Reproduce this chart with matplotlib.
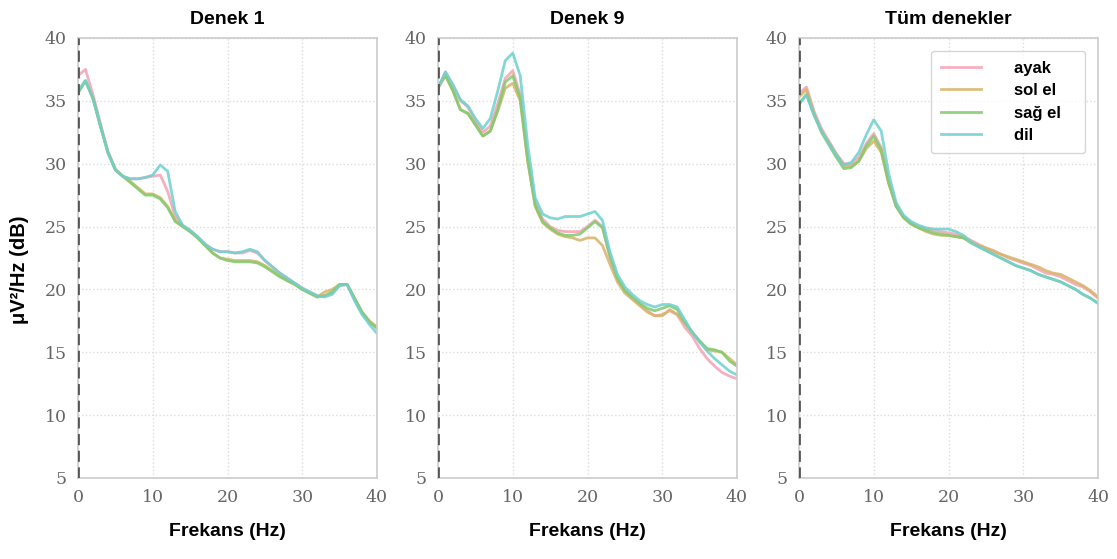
import matplotlib
matplotlib.use("Agg")
import matplotlib.pyplot as plt

freqs = list(range(0, 41))

labels = ["ayak", "sol el", "sağ el", "dil"]
colors = ["#f4a3b4", "#d6b468", "#7fcb6c", "#6fd0d0"]

titles = ["Denek 1", "Denek 9", "Tüm denekler"]

p1_ayak = [37.0,37.5,35.5,33.2,31.0,29.6,29.0,28.8,28.8,28.9,29.0,29.1,27.8,25.8,25.1,24.7,24.2,23.6,23.2,23.0,23.0,22.9,22.9,23.1,22.9,22.3,21.8,21.3,20.9,20.5,20.1,19.8,19.5,19.5,19.7,20.3,20.4,19.2,18.1,17.4,17.0]
p1_sol  = [35.7,36.6,35.2,33.0,30.9,29.5,29.0,28.6,28.1,27.6,27.6,27.3,26.6,25.5,25.0,24.6,24.1,23.5,22.9,22.5,22.4,22.3,22.3,22.3,22.2,21.9,21.5,21.1,20.7,20.4,20.0,19.7,19.4,19.8,20.0,20.4,20.4,19.3,18.2,17.5,17.0]
p1_sag  = [35.6,36.6,35.2,33.0,30.9,29.5,29.0,28.5,28.0,27.5,27.5,27.2,26.5,25.4,25.0,24.6,24.1,23.5,22.9,22.5,22.3,22.2,22.2,22.2,22.1,21.8,21.4,21.0,20.7,20.4,20.0,19.7,19.4,19.5,19.8,20.4,20.4,19.3,18.2,17.4,16.9]
p1_dil  = [35.8,36.6,35.2,33.0,30.9,29.5,29.0,28.8,28.8,28.9,29.1,29.9,29.4,26.2,25.1,24.7,24.2,23.6,23.2,23.0,23.0,22.9,23.0,23.2,23.0,22.3,21.8,21.3,20.9,20.5,20.1,19.8,19.5,19.4,19.6,20.3,20.4,19.1,18.0,17.2,16.5]

p2_ayak = [36.0,37.3,36.2,35.0,34.5,33.4,32.5,33.0,34.8,36.8,37.4,35.5,30.5,26.9,25.6,25.0,24.7,24.6,24.6,24.6,25.0,25.5,25.0,22.5,20.8,19.9,19.3,18.8,18.3,17.9,18.0,18.3,18.0,17.0,16.3,15.3,14.5,13.9,13.4,13.1,12.9]
p2_sol  = [36.0,37.0,35.8,34.3,34.0,33.1,32.2,32.6,34.2,36.0,36.4,35.0,30.2,26.6,25.3,24.8,24.4,24.2,24.1,23.9,24.1,24.1,23.5,22.0,20.6,19.7,19.2,18.7,18.2,17.9,17.9,18.4,18.0,17.3,16.6,15.9,15.2,15.1,15.0,14.5,14.0]
p2_sag  = [36.2,37.0,35.8,34.3,34.0,33.1,32.2,32.6,34.3,36.5,37.0,35.2,30.3,26.7,25.4,24.9,24.5,24.3,24.3,24.4,24.9,25.4,24.9,22.7,20.9,19.9,19.4,18.9,18.5,18.3,18.5,18.7,18.4,17.4,16.6,15.9,15.3,15.2,15.0,14.3,13.9]
p2_dil  = [36.0,37.3,36.3,35.1,34.6,33.6,32.8,33.6,35.8,38.2,38.8,37.0,31.5,27.3,26.0,25.7,25.6,25.8,25.8,25.8,26.0,26.2,25.5,23.0,21.2,20.2,19.6,19.1,18.8,18.6,18.8,18.8,18.6,17.6,16.6,15.8,15.1,14.5,14.0,13.5,13.2]

p3_ayak = [35.6,36.1,34.2,32.8,31.8,30.8,30.0,30.0,30.5,31.6,32.4,31.3,28.6,26.7,25.8,25.3,25.0,24.8,24.7,24.6,24.5,24.4,24.2,23.9,23.6,23.3,23.0,22.8,22.5,22.3,22.1,21.9,21.6,21.3,21.2,21.0,20.7,20.4,20.2,19.8,19.3]
p3_sol  = [35.3,35.9,34.0,32.6,31.7,30.7,29.8,29.8,30.2,31.2,31.8,30.9,28.4,26.6,25.7,25.2,24.9,24.6,24.4,24.3,24.3,24.2,24.1,23.8,23.5,23.3,23.1,22.8,22.6,22.4,22.2,22.0,21.8,21.5,21.3,21.2,20.9,20.6,20.3,19.9,19.4]
p3_sag  = [34.8,35.5,33.9,32.5,31.5,30.5,29.6,29.7,30.2,31.4,32.2,31.1,28.5,26.6,25.7,25.2,24.9,24.7,24.5,24.4,24.3,24.2,24.1,23.7,23.4,23.1,22.8,22.5,22.2,21.9,21.7,21.5,21.2,21.0,20.8,20.6,20.3,20.0,19.6,19.3,18.9]
p3_dil  = [34.7,35.5,33.9,32.6,31.6,30.7,29.9,30.1,30.9,32.3,33.5,32.6,29.2,26.9,25.9,25.4,25.1,24.9,24.8,24.8,24.8,24.6,24.3,23.8,23.4,23.1,22.8,22.5,22.2,21.9,21.7,21.5,21.2,21.0,20.8,20.6,20.3,20.0,19.6,19.3,18.9]

panels = [
    [p1_ayak, p1_sol, p1_sag, p1_dil],
    [p2_ayak, p2_sol, p2_sag, p2_dil],
    [p3_ayak, p3_sol, p3_sag, p3_dil],
]

xticks = [0, 10, 20, 30, 40]
yticks = [5, 10, 15, 20, 25, 30, 35, 40]

fig = plt.figure(figsize=(11.17, 5.59), dpi=100)
lefts = [78, 438, 799]
W, H = 1117.0, 559.0
axes = []
for i, left in enumerate(lefts):
    ax = fig.add_axes([left / W, 1 - 478 / H, 299 / W, 440 / H])
    axes.append(ax)
    for ser, lab, col in zip(panels[i], labels, colors):
        ax.plot(freqs, ser, color=col, lw=2.0, alpha=0.85, label=lab,
                solid_joinstyle="round")
    ax.axvline(0, color="#555555", ls=(0, (4, 2)), lw=2.0, zorder=5)
    ax.set_xlim(0, 40)
    ax.set_ylim(5, 40)
    ax.set_xticks(xticks)
    ax.set_yticks(yticks)
    ax.grid(True, color="#dddddd", ls=":", lw=1.0)
    ax.tick_params(length=0, pad=8, labelsize=12.5, labelcolor="#666666")
    for lbl in ax.get_xticklabels() + ax.get_yticklabels():
        lbl.set_family("DejaVu Serif")
    for s in ax.spines.values():
        s.set_color("#cccccc")
        s.set_linewidth(1.2)
    ax.set_title(titles[i], fontsize=14, fontweight="bold", family="Liberation Sans", pad=10)
    ax.set_xlabel("Frekans (Hz)", fontsize=14, fontweight="bold", family="Liberation Sans", labelpad=12)

fig.text(20 / W, 1 - 270 / H, "μV²/Hz (dB)", rotation=90, ha="center", va="center",
         fontsize=14.5, fontweight="bold", family="Liberation Sans")

leg = axes[2].legend(loc="upper right", bbox_to_anchor=(0.985, 0.99), frameon=True,
                     prop={"family": "Liberation Sans", "weight": "bold", "size": 12},
                     handlelength=2.4, handletextpad=2.0, borderpad=0.6, labelspacing=0.45,
                     fancybox=True)
leg.get_frame().set_edgecolor("#cccccc")
for t in leg.get_texts():
    t.set_text(t.get_text() + "   ")

fig.savefig("out.png", dpi=100)
